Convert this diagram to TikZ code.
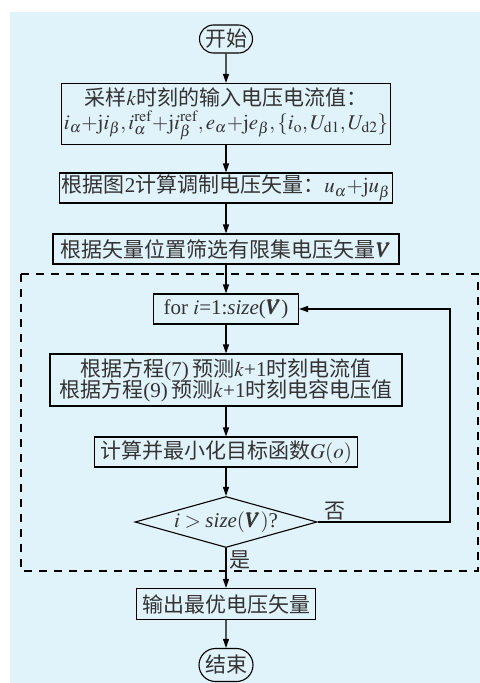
\documentclass[tikz,border=0pt]{standalone}
\usepackage{mathptmx}
\usepackage{bm}
\usepackage{fontspec}
\setmainfont{Liberation Serif}
\newfontfamily\cjk{Noto Sans CJK SC}
\newcommand{\zh}[1]{{\cjk #1}}
\usetikzlibrary{shapes.geometric,shapes.misc,arrows.meta,positioning}
\definecolor{bgblue}{HTML}{E0F2FA}
\definecolor{ink}{HTML}{333333}

\begin{document}
\begin{tikzpicture}[x=1bp,y=-1bp]
\tikzset{every node/.style={font=\fontsize{21bp}{24bp}\selectfont,text=ink},
  proc/.style={draw,line width=1.1bp,inner sep=2bp,minimum height=30bp,align=center},
  term/.style={draw,line width=1.1bp,rounded rectangle,inner sep=2bp,minimum height=28bp,minimum width=57bp},
  test/.style={draw,line width=1.1bp,diamond,aspect=3.6,inner sep=0pt,minimum width=182bp,minimum height=51bp},
  arr/.style={line width=1.1bp,-{Triangle[length=9bp,width=6bp]}},
  frame/.style={line width=1.1bp,dash pattern=on 8bp off 7bp}}
\useasboundingbox (0,0) rectangle (480,683);
\fill[bgblue] (10,12) rectangle (480,683);
\draw[frame] (21,274) rectangle (478,571);

\node[term] (start) at (226,39) {\zh{开始}};
\node[proc,minimum width=302bp,minimum height=61bp] (sample) at (226,114)
  {\zh{采样}$k$\zh{时刻的输入电压电流值：}\\
   $i_\alpha{+}\mathrm{j}i_\beta, i_\alpha^{\mathrm{ref}}{+}\mathrm{j}i_\beta^{\mathrm{ref}}, e_\alpha{+}\mathrm{j}e_\beta, \{i_\mathrm{o},U_\mathrm{d1},U_\mathrm{d2}\}$};
\node[proc,minimum width=322bp] (calc) at (226,188) {\zh{根据图}2\zh{计算调制电压矢量：}$u_\alpha{+}\mathrm{j}u_\beta$};
\node[proc,minimum width=346bp] (select) at (226,249) {\zh{根据矢量位置筛选有限集电压矢量}$\bm{V}$};
\node[proc,minimum width=145bp] (loop) at (226,309) {for $i$=1:\textit{size}($\bm{V}$)};
\node[proc,minimum width=352bp,minimum height=52bp] (pred) at (226,380)
  {\zh{根据方程}(7)\,\zh{预测}$k$+1\zh{时刻电流值}\\[-3bp]
   \zh{根据方程}(9)\,\zh{预测}$k$+1\zh{时刻电容电压值}};
\node[proc,minimum width=263bp] (cost) at (226,452) {\zh{计算并最小化目标函数}$G(o)$};
\node[test] (check) at (226,522) {$i>\textit{size}(\bm{V})$?};
\node[proc,minimum width=179bp,minimum height=31bp] (out) at (226,604) {\zh{输出最优电压矢量}};
\node[term,minimum height=33bp,minimum width=58bp] (stop) at (226,665) {\zh{结束}};
\coordinate (rgt) at (450,420);

\draw[arr] (start) -- (sample);
\draw[arr] (sample) -- (calc);
\draw[arr] (calc) -- (select);
\draw[arr] (select) -- (loop);
\draw[arr] (loop) -- (pred);
\draw[arr] (pred) -- (cost);
\draw[arr] (cost) -- (check);
\draw[arr] (check) -- node[right,pos=0.3,inner sep=3bp] (yes) {\zh{是}} (out);
\draw[arr] (out) -- (stop);
\draw[arr] (check.east) -| (rgt) |- (loop.east);
\node[above right,inner sep=2bp] (no) at ([xshift=5bp]check.east) {\zh{否}};
\end{tikzpicture}
\end{document}
